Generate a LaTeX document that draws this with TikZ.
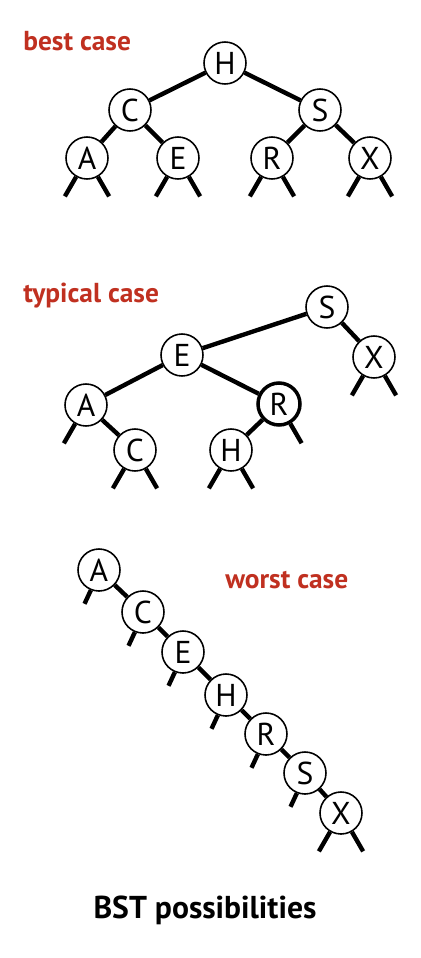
\documentclass[tikz,border=0pt]{standalone}
\usepackage{fontspec}
\setmainfont{PT Sans}
\usetikzlibrary{positioning}
\definecolor{caseRed}{RGB}{192,48,32}

\begin{document}
\begin{tikzpicture}[
        x=0.02cm, y=-0.02cm,
        key/.style={draw, circle, fill=white, line width=0.9pt, minimum size=0.84cm, inner sep=0pt, font=\fontsize{18}{18}\selectfont},
        hot/.style={key, line width=2pt},
        link/.style={line width=2.5pt},
        stub/.style={line width=2.5pt},
        caselabel/.style={text=caseRed, inner sep=0pt, anchor=base west, font=\bfseries\fontsize{15.6}{15.6}\selectfont}
    ]
    \useasboundingbox (0,0) rectangle (420,958);

    % best case
    \node[caselabel] (bestlbl) at (23,50) {best case};
    \node[key] (bH) at (225,63) {H};
    \node[key] (bC) at (130,110) {C};
    \node[key] (bS) at (320,110) {S};
    \node[key] (bA) at (87,158) {A};
    \node[key] (bE) at (178,158) {E};
    \node[key] (bR) at (272,158) {R};
    \node[key] (bX) at (370,158) {X};
    \draw[link] (bH) -- (bC);
    \draw[link] (bH) -- (bS);
    \draw[link] (bC) -- (bA);
    \draw[link] (bC) -- (bE);
    \draw[link] (bS) -- (bR);
    \draw[link] (bS) -- (bX);

    % typical case
    \node[caselabel] (typlbl) at (23,302) {typical case};
    \node[key] (tS) at (327,307) {S};
    \node[key] (tE) at (182,355) {E};
    \node[key] (tX) at (374,357) {X};
    \node[key] (tA) at (86,405) {A};
    \node[hot] (tR) at (279,404) {R};
    \node[key] (tC) at (135,450) {C};
    \node[key] (tH) at (231,450) {H};
    \draw[link] (tS) -- (tE);
    \draw[link] (tS) -- (tX);
    \draw[link] (tE) -- (tA);
    \draw[link] (tE) -- (tR);
    \draw[link] (tA) -- (tC);
    \draw[link] (tR) -- (tH);

    % worst case
    \node[caselabel] (worstlbl) at (225,588) {worst case};
    \node[key] (wA) at (99,570) {A};
    \node[key] (wC) at (143,612) {C};
    \node[key] (wE) at (183,652) {E};
    \node[key] (wH) at (226,695) {H};
    \node[key] (wR) at (266,734) {R};
    \node[key] (wS) at (305,773) {S};
    \node[key] (wX) at (341,813) {X};
    \draw[link] (wA) -- (wC) -- (wE) -- (wH) -- (wR) -- (wS) -- (wX);

    % null links
    \foreach \n in {bA,bE,bR,bX,tX,tC,tH,wX}{
        \draw[stub] (\n.-120) -- ++(-120:0.45cm);
        \draw[stub] (\n.-60) -- ++(-60:0.45cm);
    }
    \foreach \n in {tA}
        \draw[stub] (\n.-120) -- ++(-120:0.45cm);
    \foreach \n in {tR}
        \draw[stub] (\n.-60) -- ++(-60:0.45cm);
    \foreach \n in {wA,wC,wE,wH,wR,wS}
        \draw[stub] (\n.-112) -- ++(-115:0.3cm);

    \node[inner sep=0pt, anchor=base, font=\bfseries\fontsize{18}{18}\selectfont] (title) at (205,918) {BST possibilities};
\end{tikzpicture}
\end{document}
